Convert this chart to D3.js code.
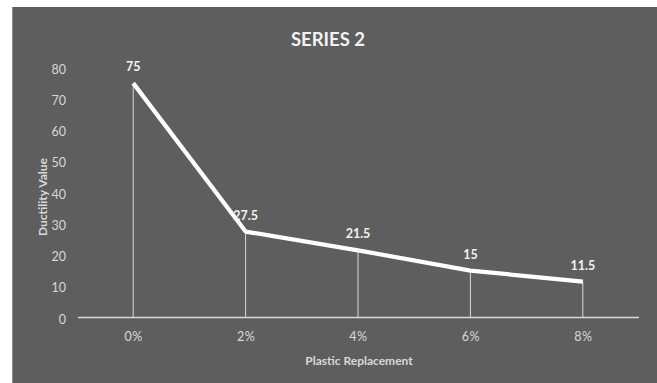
<!DOCTYPE html>
<html>
<head>
<meta charset="utf-8">
<script src="https://cdn.jsdelivr.net/npm/d3@7"></script>
<style>
  html, body { margin: 0; padding: 0; background: #ffffff; }
  svg { display: block; }
</style>
</head>
<body>
<div id="chart"></div>
<script>
// Ductility value against plastic replacement level
const categories = ["0%", "2%", "4%", "6%", "8%"];
const ductility = [75, 27.5, 21.5, 15, 11.5];
const yTicks = [0, 10, 20, 30, 40, 50, 60, 70, 80];
const chartTitle = "SERIES 2";
const xTitle = "Plastic Replacement";
const yTitle = "Ductility Value";

const W = 657, H = 383;
const FONT = "Lato, 'Open Sans', 'Noto Sans', sans-serif";

const svg = d3.select("#chart").append("svg")
  .attr("width", W).attr("height", H);

// chart area panel
svg.append("rect")
  .attr("x", 12).attr("y", 7)
  .attr("width", W - 12).attr("height", H - 7)
  .attr("fill", "#5e5e5e");
svg.append("line")
  .attr("x1", 12.5).attr("x2", 12.5).attr("y1", 7).attr("y2", H)
  .attr("stroke", "#8a8a8a").attr("stroke-width", 1);

const x = d3.scalePoint().domain(categories).range([77, 639]).padding(0.5);
const y = d3.scaleLinear().domain([0, 80]).range([317.5, 67.5]);

// y axis labels (no axis line)
const yAxis = svg.append("g")
  .attr("transform", "translate(66,0)")
  .call(d3.axisLeft(y).tickValues(yTicks).tickSize(0).tickPadding(0));
yAxis.select(".domain").remove();
yAxis.selectAll("text")
  .attr("fill", "#d9d9d9").attr("font-family", FONT).attr("font-size", 12.5)
  .attr("dy", "0.45em");

// drop lines from each point to the category axis
svg.append("g").selectAll("line")
  .data(ductility)
  .join("line")
  .attr("x1", (d, i) => x(categories[i]))
  .attr("x2", (d, i) => x(categories[i]))
  .attr("y1", d => y(d))
  .attr("y2", y(0))
  .attr("stroke", "#d9d9d9").attr("stroke-width", 1);

// x axis
const xAxis = svg.append("g")
  .attr("transform", `translate(0,${y(0)})`)
  .call(d3.axisBottom(x).tickSize(0).tickPadding(15));
xAxis.select(".domain")
  .attr("stroke", "#d9d9d9").attr("stroke-width", 1.6)
  .attr("d", `M78,0H639`);
xAxis.selectAll("text")
  .attr("fill", "#d9d9d9").attr("font-family", FONT).attr("font-size", 12.5)
  .attr("letter-spacing", "0.5px");

// series line
const line = d3.line()
  .x((d, i) => x(categories[i]))
  .y(d => y(d));
svg.append("path")
  .datum(ductility)
  .attr("d", line)
  .attr("fill", "none")
  .attr("stroke", "#ffffff")
  .attr("stroke-width", 4.2)
  .attr("stroke-linejoin", "round")
  .attr("stroke-linecap", "butt");

// value labels
svg.append("g").selectAll("text")
  .data(ductility)
  .join("text")
  .attr("x", (d, i) => x(categories[i]))
  .attr("y", d => y(d) - 12)
  .attr("text-anchor", "middle")
  .attr("fill", "#f2f2f2")
  .attr("font-family", FONT).attr("font-weight", "bold").attr("font-size", 12.5)
  .text(d => d);

// titles
svg.append("text")
  .attr("x", 328).attr("y", 46)
  .attr("text-anchor", "middle")
  .attr("fill", "#f2f2f2")
  .attr("font-family", FONT).attr("font-weight", "bold").attr("font-size", 18.5)
  .text(chartTitle);

svg.append("text")
  .attr("x", 359).attr("y", 365)
  .attr("text-anchor", "middle")
  .attr("fill", "#d9d9d9")
  .attr("font-family", FONT).attr("font-weight", "bold").attr("font-size", 12)
  .text(xTitle);

svg.append("text")
  .attr("transform", "translate(47,197) rotate(-90)")
  .attr("text-anchor", "middle")
  .attr("fill", "#d9d9d9")
  .attr("font-family", FONT).attr("font-weight", "bold").attr("font-size", 12)
  .text(yTitle);
</script>
</body>
</html>
